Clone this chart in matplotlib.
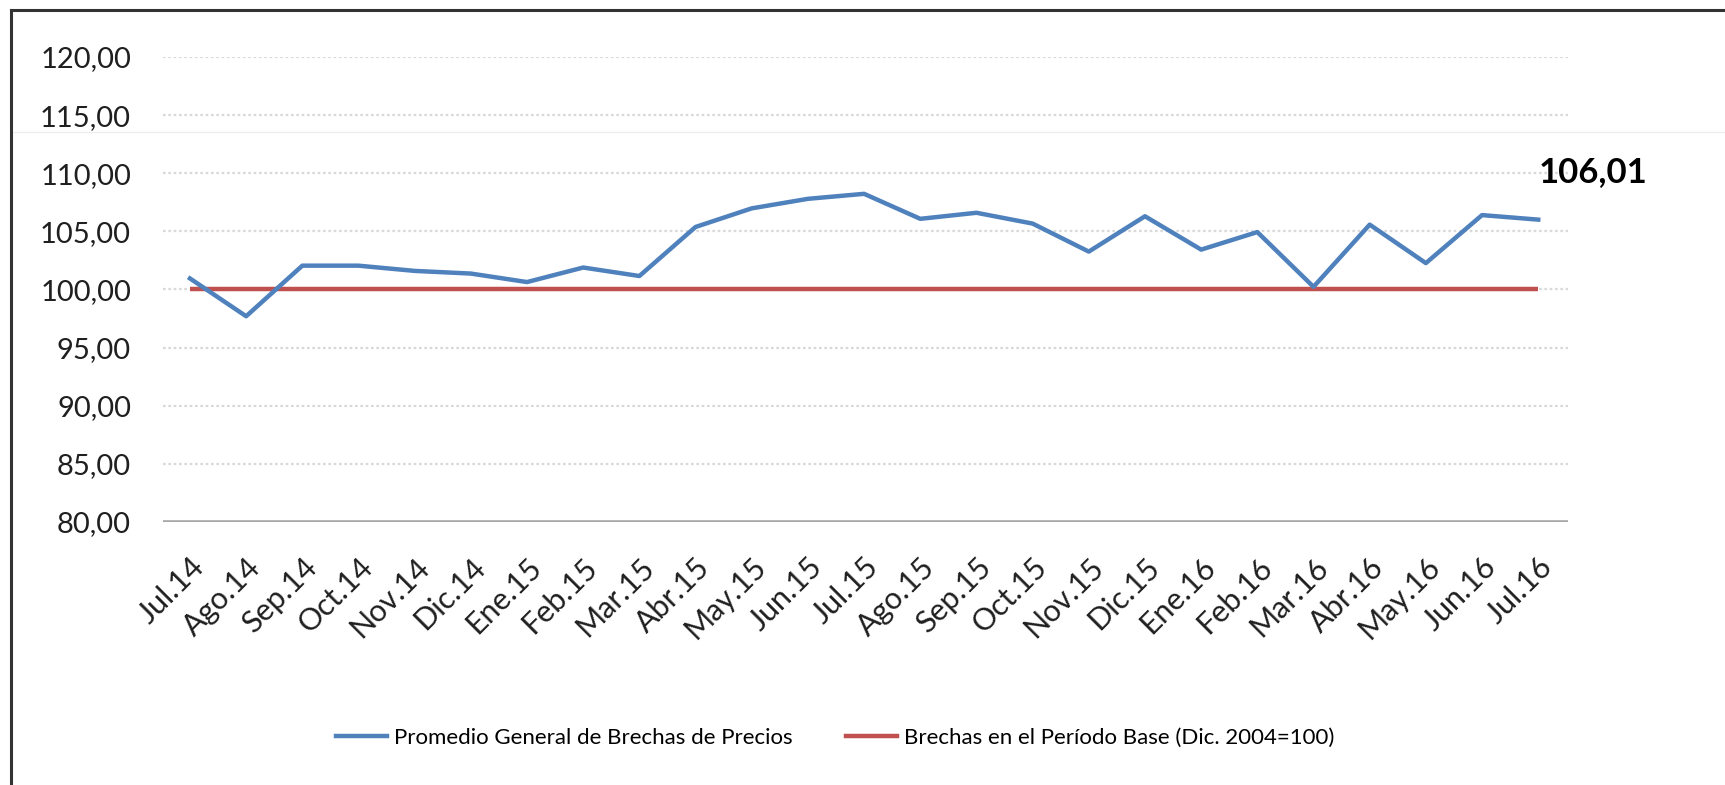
import matplotlib
matplotlib.use("Agg")
import matplotlib.pyplot as plt
from matplotlib.lines import Line2D

months = ["Jul.14", "Ago.14", "Sep.14", "Oct.14", "Nov.14", "Dic.14", "Ene.15", "Feb.15",
          "Mar.15", "Abr.15", "May.15", "Jun.15", "Jul.15", "Ago.15", "Sep.15", "Oct.15",
          "Nov.15", "Dic.15", "Ene.16", "Feb.16", "Mar.16", "Abr.16", "May.16", "Jun.16", "Jul.16"]
promedio = [100.95, 97.70, 102.05, 102.05, 101.60, 101.37, 100.64, 101.89,
            101.16, 105.38, 106.98, 107.80, 108.23, 106.08, 106.60, 105.67,
            103.26, 106.30, 103.43, 104.94, 100.23, 105.58, 102.27, 106.40, 106.01]
base = [100.0] * len(months)
yticks = [80, 85, 90, 95, 100, 105, 110, 115, 120]
last_label = "106,01"
legend_labels = ["Promedio General de Brechas de Precios",
                 "Brechas en el Período Base (Dic. 2004=100)"]

W, H = 1725, 785
fig = plt.figure(figsize=(W / 100, H / 100), dpi=100)
fig.patch.set_facecolor("white")

ax = fig.add_axes([163 / W, 1 - 522 / H, (1568 - 163) / W, (522 - 57) / H])
ax.patch.set_alpha(0)
x = list(range(len(months)))

for yv in yticks[1:]:
    ax.axhline(yv, color="#d9d9d9", lw=1.6, ls=(0, (1.2, 1.2)), zorder=1)
ax.axhline(80, color="#a6a6a6", lw=2.6, zorder=2)

ax.plot(x, base, color="#C0504D", lw=3.2, zorder=3, solid_capstyle="butt")
ax.plot(x, promedio, color="#4F81BD", lw=3.2, zorder=4, solid_joinstyle="round")

ax.set_xlim(-0.48, len(months) - 1 + 0.53)
ax.set_ylim(80, 120)
ax.set_yticks(yticks)
ax.set_yticklabels([f"{v},00" for v in yticks], fontsize=21, family=["Lato", "DejaVu Sans"],
                   color="#1f1f1f")
ax.set_xticks(x)
ax.set_xticklabels(months, rotation=45, ha="right", rotation_mode="anchor",
                   fontsize=22, family=["Lato", "DejaVu Sans"], color="#1f1f1f")
ax.tick_params(axis="y", length=0, pad=23)
ax.tick_params(axis="x", length=0, pad=22)
for s in ax.spines.values():
    s.set_visible(False)

ax.annotate(last_label, xy=(x[-1], promedio[-1]), xytext=(0, 34), textcoords="offset points",
            ha="left", va="center", fontsize=25, fontweight="bold",
            family=["Lato", "DejaVu Sans"], color="black")

handles = [Line2D([], [], color="#4F81BD", lw=3.2), Line2D([], [], color="#C0504D", lw=3.2)]
fig.legend(handles, legend_labels, loc="center", bbox_to_anchor=(835 / W, 1 - 738 / H),
           ncol=2, frameon=False, prop={"family": ["Lato", "DejaVu Sans"], "size": 16},
           handlelength=2.3, handletextpad=0.3, columnspacing=2.4)

# frame edges (top and left) and faint artifact line
fig.add_artist(Line2D([11 / W, 11 / W], [0, 1 - 10 / H], transform=fig.transFigure,
                      color="#333333", lw=2.2))
fig.add_artist(Line2D([11 / W, 1], [1 - 10 / H, 1 - 10 / H], transform=fig.transFigure,
                      color="#333333", lw=2.2))
fig.add_artist(Line2D([11 / W, 1], [1 - 132 / H, 1 - 132 / H], transform=fig.transFigure,
                      color="#f1eef3", lw=1, zorder=0))

fig.savefig("out.png", dpi=100)
